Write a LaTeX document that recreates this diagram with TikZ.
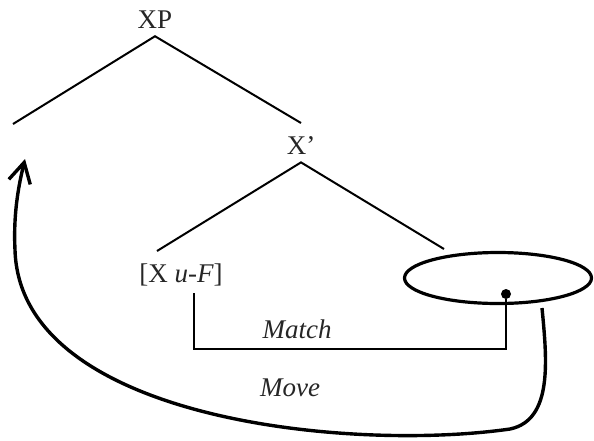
\documentclass[tikz,border=0pt]{standalone}
\usepackage{fontspec}
\setmainfont{Liberation Serif}
\usetikzlibrary{arrows.meta,shapes.geometric}

\begin{document}
\begin{tikzpicture}[x=0.5pt,y=-0.5pt,
  lbl/.style={font=\fontsize{13.5}{16}\selectfont,text=black!85,inner sep=3.5pt},
  tag/.style={font=\fontsize{13.5}{16}\selectfont\itshape,text=black!85,inner sep=0pt},
  branch/.style={line width=1pt},
  bar/.style={line width=1.3pt},
  move/.style={line width=1.7pt,-{Straight Barb[length=10pt,width=11pt,line width=1.7pt]}}]
  \useasboundingbox (0,0) rectangle (594,440);
  % tree
  \node[lbl] (XP) at (155,20){XP};
  \node[lbl] (Xbar) at (301,146){X’};
  \node[lbl] (XuF) at (181,275){[X \textit{u}-\textit{F}]};
  \node[draw,ellipse,line width=1.6pt,minimum width=93.5pt,minimum height=25.5pt,inner sep=0pt] (goal) at (498,278){};
  \coordinate (spec) at (13,124);
  \coordinate (xbar-top) at (301,123);
  \coordinate (xuf-top) at (157,251);
  \coordinate (goal-top) at (444,249);
  \draw[branch] (spec) -- (XP.south) -- (xbar-top);
  \draw[branch] (xuf-top) -- (Xbar.south) -- (goal-top);
  % match
  \node[circle,fill,inner sep=0pt,minimum size=5pt] (dot) at (506,294){};
  \coordinate (m0) at (194,293);
  \draw[bar] (m0) -- ++(0,56) -| (dot);
  \node[tag] (match) at (297,329){Match};
  % move
  \coordinate (mv0) at (542,308);
  \coordinate (land) at (25,159);
  \draw[move] (mv0) .. controls (547,360) and (553,420) .. (510,429)
    .. controls (350,452) and (20,420) .. (15,250)
    .. controls (13,210) and (20,180) .. (land);
  \node[tag] (moveto) at (290,388){Move};
\end{tikzpicture}
\end{document}
